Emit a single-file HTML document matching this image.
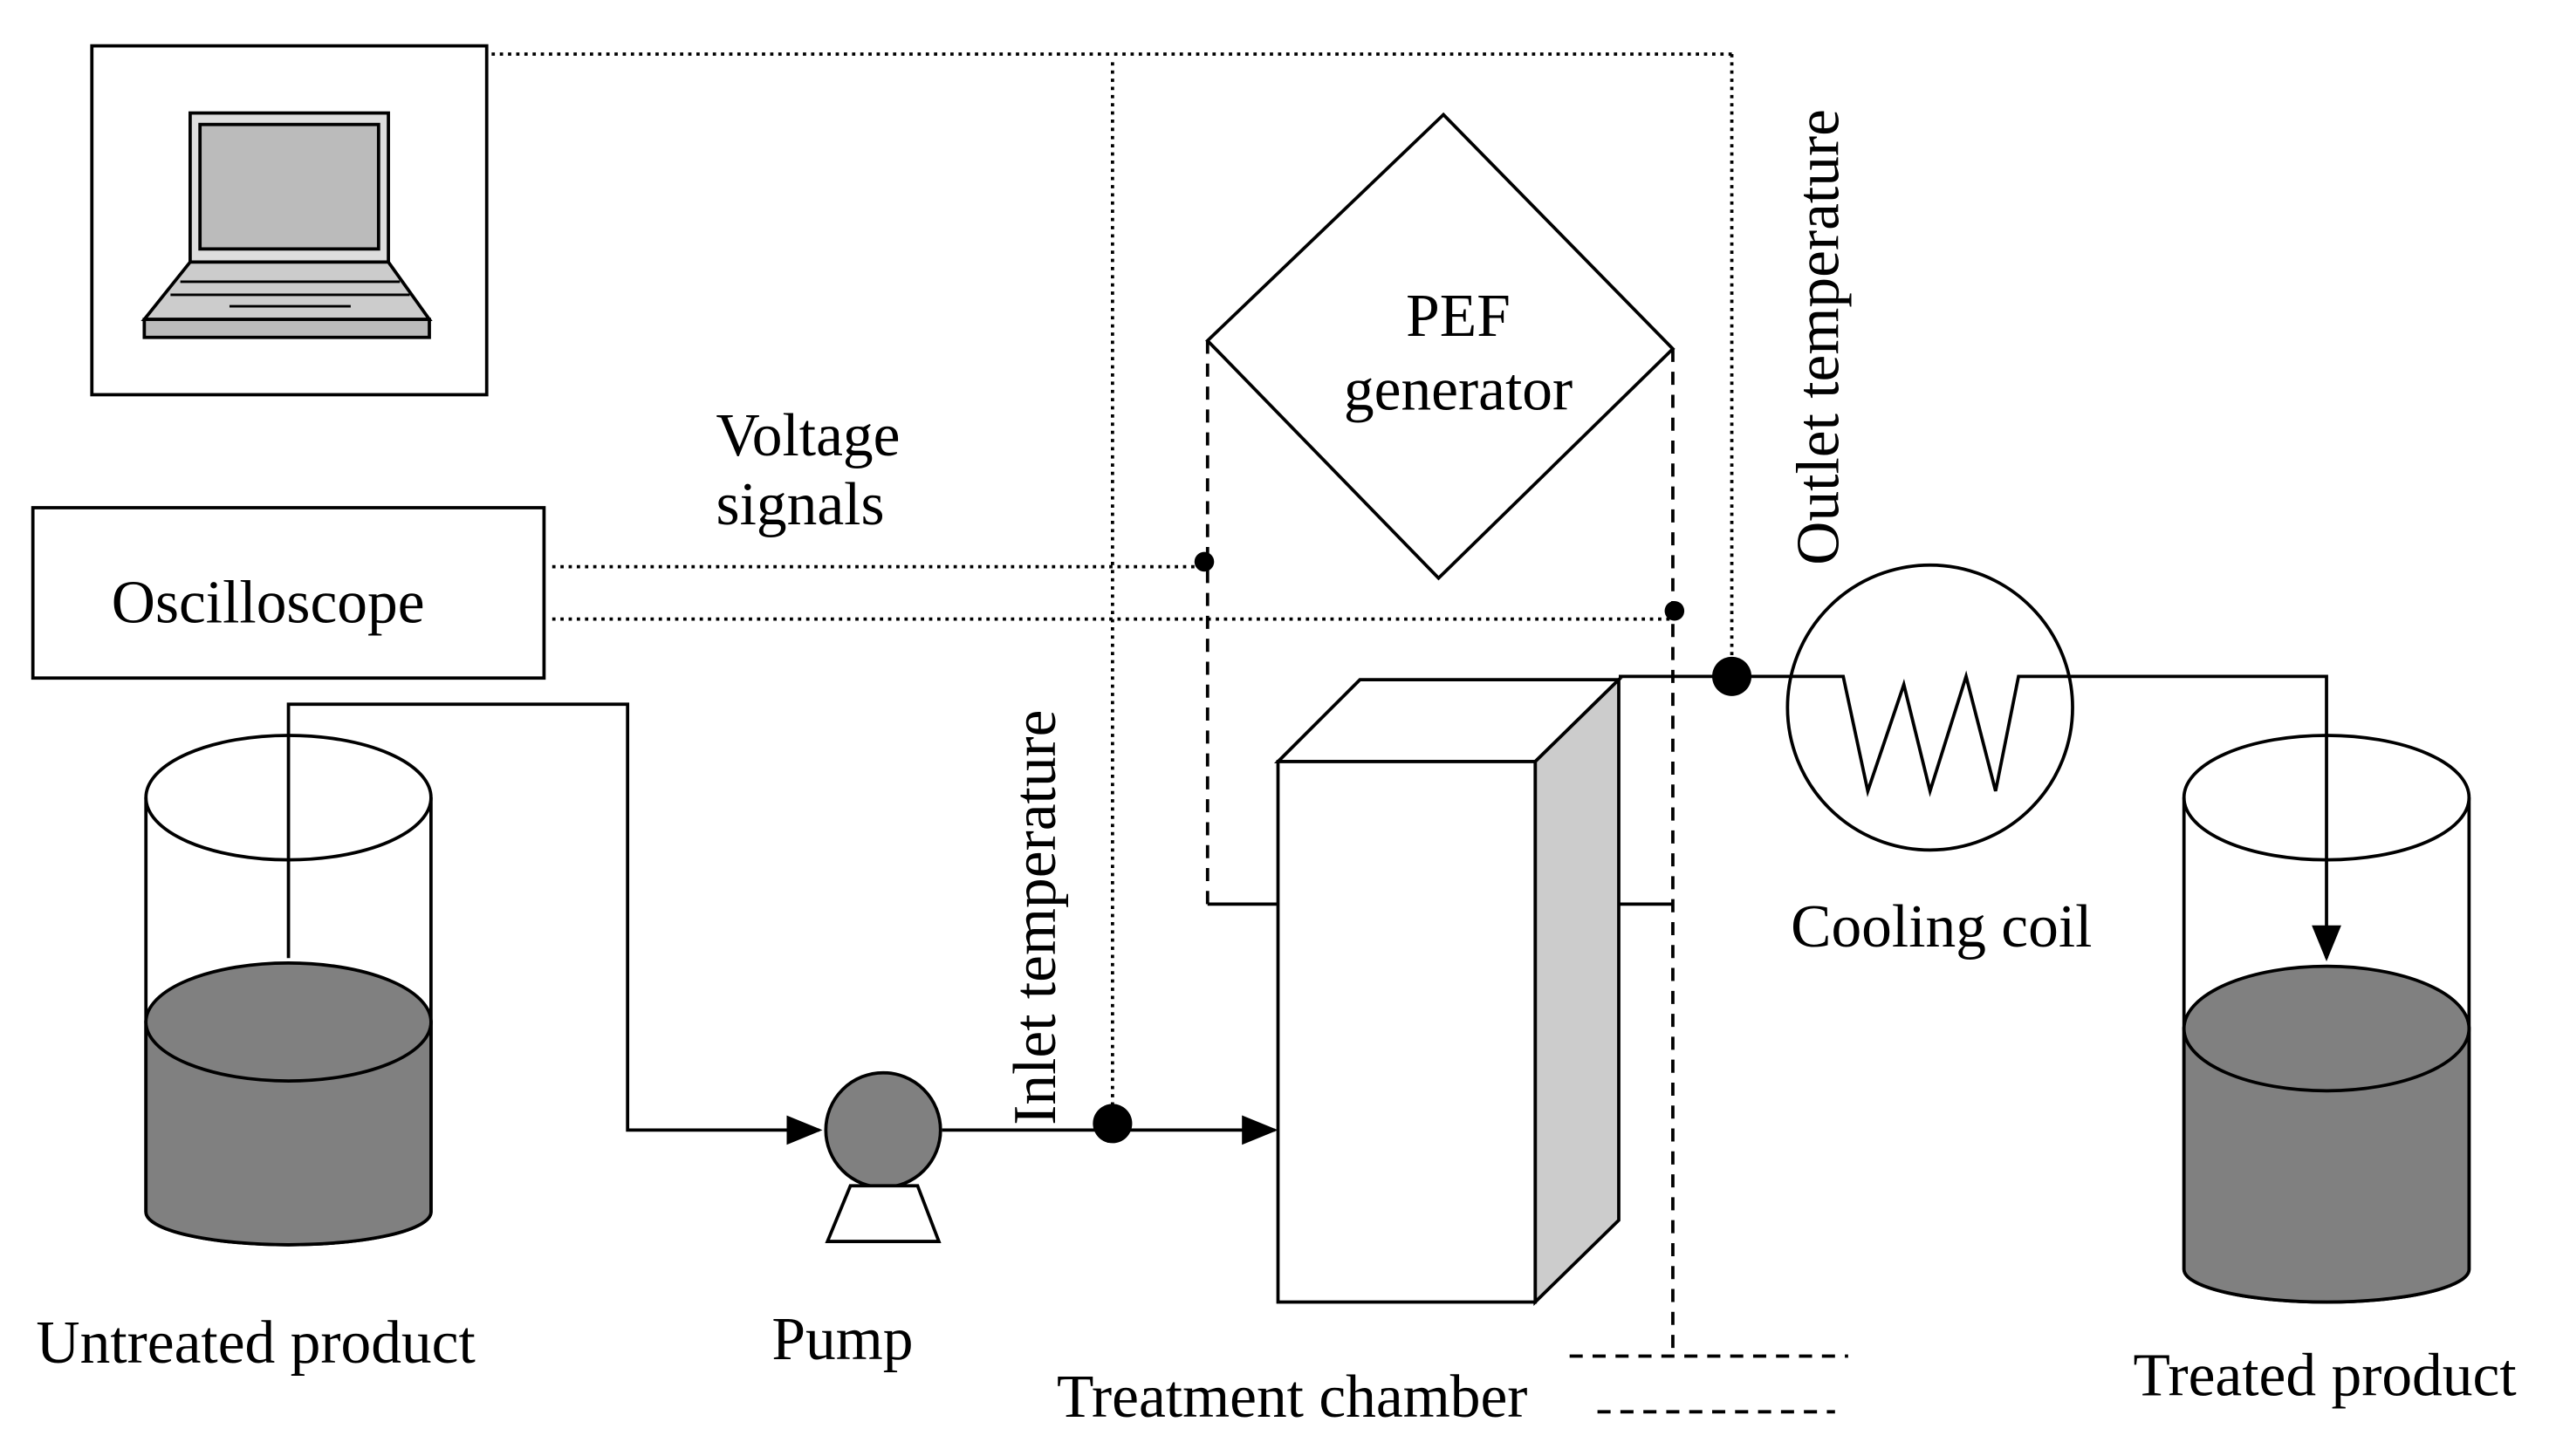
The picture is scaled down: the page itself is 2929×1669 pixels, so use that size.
<!DOCTYPE html>
<html><head><meta charset="utf-8"><style>
html,body{margin:0;padding:0;background:#fff;}
svg{display:block;}
text{font-family:"Liberation Serif",serif;font-size:37px;fill:#000;}
</style></head><body>
<svg width="2929" height="1669" viewBox="0 0 1560 889" xmlns="http://www.w3.org/2000/svg">
<defs>
<marker id="ar2" markerWidth="22" markerHeight="18" refX="20" refY="9" orient="auto" markerUnits="userSpaceOnUse"><path d="M0,0 L22,9 L0,18 Z" fill="#000"/></marker></defs>
<g fill="none" stroke="#000" stroke-width="2">
<rect x="56" y="28" width="241" height="213"/>
<rect x="116" y="69" width="121" height="91" fill="#ddd"/>
<rect x="122" y="76" width="109" height="76" fill="#bbb"/>
<path d="M116,160 L237,160 L262,195 L88,195 Z" fill="#ccc"/>
<rect x="88" y="195" width="174" height="11" fill="#bbb"/>
<path d="M110,172 H244 M104,180 H250 M140,187 H214" stroke-width="1.5"/>
<rect x="20" y="310" width="312" height="104"/>
</g>
<g fill="none" stroke="#000" stroke-width="2" stroke-dasharray="2,3">
<path d="M300,33 H1057 M679,38 V686 M1057,33 V412 M337,346 H735 M337,378 H1022"/>
</g>
<g fill="none" stroke="#000" stroke-width="2" stroke-dasharray="8,6">
<path d="M737,208 V555 M1021,213 V828 M958,828 H1128 M975,862 H1120"/>
</g>
<g fill="none" stroke="#000" stroke-width="2">
<path d="M881,70 L1021,213 L878,353 L737,208 Z" fill="#fff"/>
<path d="M737,552 H780 M988,552 H1021"/>
<path d="M780,465 L830,415 L988,415 L937,465 Z" fill="#fff"/>
<path d="M937,465 L988,415 L988,745 L937,795 Z" fill="#ccc"/>
<rect x="780" y="465" width="157" height="330" fill="#fff"/>
<path d="M89,487 V740 A87,20 0 0 0 263,740 V487" />
<path d="M89,624 V740 A87,20 0 0 0 263,740 V624 Z" fill="#808080"/>
<ellipse cx="176" cy="624" rx="87" ry="36" fill="#808080"/>
<ellipse cx="176" cy="487" rx="87" ry="38"/>
<path d="M176,585 V430 H383 V690 H500" marker-end="url(#ar2)"/>
<circle cx="539" cy="690" r="35" fill="#808080"/>
<path d="M519,724 L560,724 L573,758 L505,758 Z" fill="#fff"/>
<path d="M575,690 H778" marker-end="url(#ar2)"/>
<path d="M988,413 H1125 L1140,483 L1162,418 L1178,483 L1200,413 L1218,483 L1232,413 H1420 V585" marker-end="url(#ar2)"/>
<circle cx="1178" cy="432" r="87"/>
<path d="M1333,487 V775 A87,20 0 0 0 1507,775 V487"/>
<path d="M1333,628 V775 A87,20 0 0 0 1507,775 V628 Z" fill="#808080"/>
<ellipse cx="1420" cy="628" rx="87" ry="38" fill="#808080"/>
<ellipse cx="1420" cy="487" rx="87" ry="38"/>
</g>
<circle cx="735" cy="343" r="6"/>
<circle cx="1022" cy="373" r="6"/>
<circle cx="679" cy="686" r="12"/>
<circle cx="1057" cy="413" r="12"/>
<text x="68" y="380">Oscilloscope</text>
<text x="437" y="278">Voltage</text>
<text x="437" y="320">signals</text>
<text x="890" y="205" text-anchor="middle">PEF</text>
<text x="890" y="250" text-anchor="middle">generator</text>
<text x="22" y="832">Untreated product</text>
<text x="471" y="830">Pump</text>
<text x="645" y="865">Treatment chamber</text>
<text x="1302" y="852">Treated product</text>
<text x="1093" y="578">Cooling coil</text>
<text transform="translate(644,687) rotate(-90)">Inlet temperature</text>
<text transform="translate(1122,345) rotate(-90)">Outlet temperature</text>
</svg>
</body></html>
